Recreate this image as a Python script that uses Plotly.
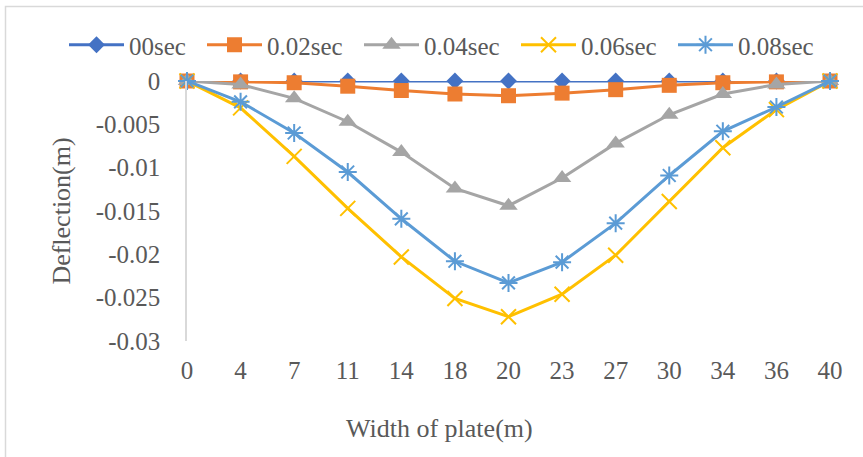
import plotly.graph_objects as go

# Plate width stations (m) used as categories along the x axis
widths = [0, 4, 7, 11, 14, 18, 20, 23, 27, 30, 34, 36, 40]

# Deflection (m) at each station for each time step
defl_00 = [0, 0, 0, 0, 0, 0, 0, 0, 0, 0, 0, 0, 0]
defl_002 = [0, -0.0001, -0.0002, -0.0006, -0.0011, -0.0015, -0.0017, -0.0014, -0.0010, -0.0005, -0.0002, -0.0001, 0]
defl_004 = [0, -0.0004, -0.0020, -0.0047, -0.0082, -0.0124, -0.0144, -0.0112, -0.0072, -0.0039, -0.0015, -0.0004, 0]
defl_006 = [0, -0.0031, -0.0087, -0.0147, -0.0203, -0.0251, -0.0272, -0.0246, -0.0201, -0.0139, -0.0077, -0.0033, 0]
defl_008 = [0, -0.0024, -0.0060, -0.0105, -0.0159, -0.0208, -0.0233, -0.0209, -0.0164, -0.0109, -0.0058, -0.0030, 0]

series_names = ["00sec", "0.02sec", "0.04sec", "0.06sec", "0.08sec"]

y_ticks = [0, -0.005, -0.01, -0.015, -0.02, -0.025, -0.03]
y_tick_labels = ["0", "-0.005", "-0.01", "-0.015", "-0.02", "-0.025", "-0.03"]

FONT = "Liberation Serif"
TEXT = "#595959"
GRID = "#d9d9d9"

styles = [
    dict(color="#4472C4", symbol="diamond", size=13, thin=False, lw=68),
    dict(color="#ED7D31", symbol="square", size=15, thin=False, lw=87),
    dict(color="#A5A5A5", symbol="triangle-up", size=16, thin=False, lw=87),
    dict(color="#FFC000", symbol="x-thin", size=15, thin=True, lw=87),
    dict(color="#5B9BD5", symbol="asterisk", size=15, thin=True, lw=87),
]

x_cats = [str(w) for w in widths]
fig = go.Figure()
for name, vals, st in zip(series_names, [defl_00, defl_002, defl_004, defl_006, defl_008], styles):
    marker = dict(symbol=st["symbol"], size=st["size"], color=st["color"])
    if st["thin"]:
        marker["line"] = dict(color=st["color"], width=2)
    fig.add_trace(go.Scatter(
        x=x_cats, y=vals, name=name, mode="lines+markers",
        line=dict(color=st["color"], width=3),
        marker=marker, cliponaxis=False, legendwidth=st["lw"],
    ))

L, R, T, B = 187, 33, 81, 116
W, H = 863, 457
PW, PH = W - L - R, H - T - B

def px_x(p):
    return (p - L) / PW

def px_y(p):
    return (H - B - p) / PH

fig.update_layout(
    width=W, height=H,
    margin=dict(l=L, r=R, t=T, b=B, pad=0),
    paper_bgcolor="white", plot_bgcolor="white",
    font=dict(family=FONT, size=25, color=TEXT),
    showlegend=True,
    legend=dict(
        orientation="h", x=px_x(64), xanchor="left",
        y=px_y(45), yanchor="middle",
        itemwidth=55, entrywidthmode="pixels",
        font=dict(family=FONT, size=25, color=TEXT),
        bgcolor="rgba(0,0,0,0)",
    ),
    xaxis=dict(
        type="category", range=[0, len(widths) - 1],
        showgrid=False, zeroline=False, showline=False,
        ticks="", ticklabelstandoff=12,
        tickfont=dict(family=FONT, size=25, color=TEXT),
    ),
    yaxis=dict(
        range=[-0.03, 0], tickvals=y_ticks, ticktext=y_tick_labels,
        showgrid=False, zeroline=True, zerolinecolor=GRID, zerolinewidth=1,
        showline=True, linecolor=GRID, linewidth=1.5,
        ticks="", ticklabelstandoff=20,
        tickfont=dict(family=FONT, size=25, color=TEXT),
        title=dict(text="Deflection(m)", standoff=18,
                   font=dict(family=FONT, size=26, color=TEXT)),
    ),
    annotations=[dict(
        text="Width of plate(m)", xref="paper", yref="paper",
        x=px_x(439), y=px_y(428), xanchor="center", yanchor="middle",
        showarrow=False, font=dict(family=FONT, size=26, color=TEXT),
    )],
    shapes=[dict(
        type="rect", xref="paper", yref="paper",
        x0=px_x(5.5), x1=px_x(875), y0=px_y(470), y1=px_y(6.5),
        line=dict(color=GRID, width=1.5), fillcolor="rgba(0,0,0,0)",
        layer="below",
    )],
)

fig.write_html("out.html")
